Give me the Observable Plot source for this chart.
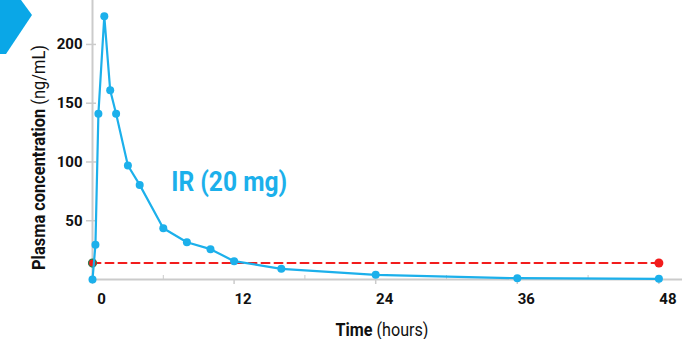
<!DOCTYPE html>
<html><head><meta charset="utf-8">
<script src="https://cdn.jsdelivr.net/npm/d3@7"></script>
<script src="https://cdn.jsdelivr.net/npm/@observablehq/plot@0.6"></script>
<style>
html,body{margin:0;padding:0;background:#fff;}
#wrap{position:relative;width:682px;height:339px;overflow:hidden;}
#chev{position:absolute;left:0;top:0;width:33px;height:54px;background:#0aa7e7;clip-path:polygon(0 0,21px 0,32px 15px,6px 54px,0 54px);z-index:2;}
svg{display:block;}
</style></head><body>
<div id="wrap"><div id="chev"></div></div>
<script>
// Data
const hours = [0, 0.25, 0.5, 1, 1.5, 2, 3, 4, 6, 8, 10, 12, 16, 24, 36, 48];
const concentration = [0, 29.5, 141, 224, 161, 141, 97, 80.5, 43.6, 31.7, 25.8, 15.6, 9.1, 4, 1.1, 0.6];
const thresholdValue = 14;
const thresholdHours = [0, 48];
const xTicks = [0, 12, 24, 36, 48];
const xMinorTicks = [6, 18, 30, 42];
const yTicks = [50, 100, 150, 200];
const seriesLabel = "IR (20 mg)";
const seriesLabelAt = {t: 6.67, c: 83};

const blue = "#1cb0eb";
const red = "#f21c1c";
const axisGray = "#cbcbcb";

const pk = hours.map((t, i) => ({t, c: concentration[i]}));
const thr = thresholdHours.map(t => ({t, c: thresholdValue}));

const chart = Plot.plot({
  width: 682,
  height: 339,
  marginLeft: 92,
  marginRight: 0,
  marginTop: 0,
  marginBottom: 60,
  style: {fontFamily: "Roboto", fontSize: "14px", color: "#111", background: "#fff", overflow: "visible"},
  x: {domain: [0, 50], axis: null},
  y: {domain: [0, 237.4], axis: null},
  marks: [
    Plot.ruleX([0], {stroke: axisGray, strokeWidth: 2}),
    Plot.ruleY([0], {stroke: axisGray, strokeWidth: 2}),
    Plot.axisY({ticks: yTicks, tickSize: 10, dx: 4, tickPadding: 4, stroke: axisGray, strokeWidth: 1.5, fontWeight: "bold", fontSize: 15, fill: "#111", label: null}),
    Plot.axisX({ticks: xTicks, tickSize: 5, stroke: axisGray, strokeWidth: 1.5, text: null, label: null}),
    Plot.axisX({ticks: xMinorTicks, tickSize: 4, dy: -4, stroke: axisGray, strokeWidth: 1, text: null, label: null}),
    Plot.axisX({ticks: xTicks, tickSize: 0, tickPadding: 14, dx: 9, fontWeight: "bold", fontSize: 15, fill: "#111", label: null}),
    Plot.line(thr, {x: "t", y: "c", stroke: red, strokeWidth: 2, strokeDasharray: "8,5"}),
    Plot.dot(thr.slice(0, 1), {x: "t", y: "c", r: 4, fill: red, stroke: "#2f7a4a", strokeWidth: 1.2}),
    Plot.dot(thr.slice(1), {x: "t", y: "c", r: 4.5, fill: red}),
    Plot.line(pk, {x: "t", y: "c", stroke: blue, strokeWidth: 2.2}),
    Plot.dot(pk, {x: "t", y: "c", r: 4, fill: blue}),
    Plot.text([seriesLabelAt], {x: "t", y: "c", text: () => seriesLabel, textAnchor: "start", fill: blue, fontSize: 28, fontWeight: "bold", className: "series-label"})
  ]
});

document.getElementById("wrap").appendChild(chart);
const svg = d3.select(chart);
// condensed look: squeeze glyphs to the reference widths
svg.selectAll(".series-label text").attr("textLength", 116).attr("lengthAdjust", "spacingAndGlyphs");

function condensedLabel(parts, x, y, rotate, targetWidth) {
  const g = svg.append("g");
  const t = g.append("text")
    .attr("text-anchor", "middle")
    .attr("font-size", 18)
    .attr("fill", "#111");
  parts.forEach(([s, w]) => t.append("tspan").attr("font-weight", w).text(s));
  const natural = t.node().getComputedTextLength();
  const k = targetWidth / natural;
  g.attr("transform", `translate(${x},${y}) rotate(${rotate}) scale(${k},1)`);
}
condensedLabel([["Plasma concentration", "bold"], [" (ng/mL)", "normal"]], 45, 157.5, -90, 225);
condensedLabel([["Time", "bold"], [" (hours)", "normal"]], 382, 336, 0, 93);
</script>
</body></html>
